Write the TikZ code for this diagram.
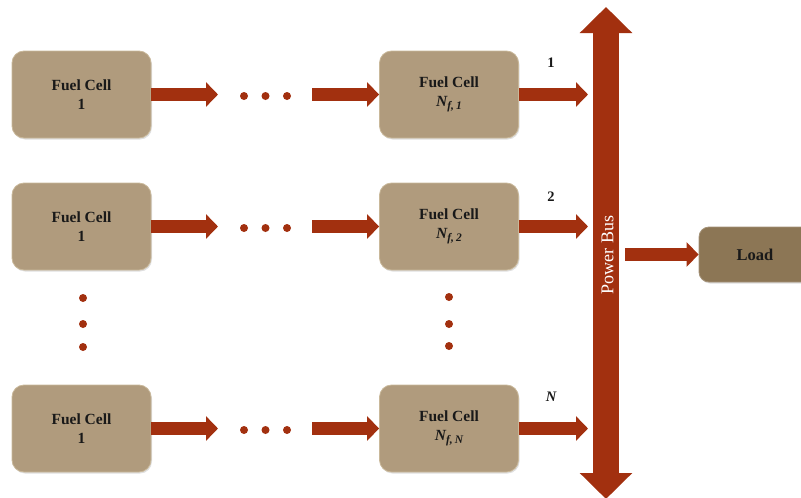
\documentclass[tikz,border=0pt]{standalone}
\usepackage{fontspec}
\setmainfont{Liberation Serif}
\usetikzlibrary{arrows.meta,shadows}
\definecolor{fcfill}{HTML}{B09B7D}
\definecolor{fcedge}{HTML}{C9B89A}
\definecolor{loadfill}{HTML}{8C7655}
\definecolor{arrred}{HTML}{A2300F}
\newcommand{\nfsub}[1]{{\bfseries\itshape N}\raisebox{-0.35ex}{\fontsize{11.5}{12}\selectfont\bfseries\itshape f,\,#1}}
\tikzset{
  fcbox/.style={rectangle, rounded corners=12pt, fill=fcfill, draw=fcedge, line width=0.8pt,
    minimum width=139pt, minimum height=87pt, align=center, inner sep=0pt,
    font=\fontsize{15.5}{19}\selectfont\bfseries, text=black!90,
    drop shadow={opacity=0.25, shadow xshift=1pt, shadow yshift=-1.5pt}},
  loadbox/.style={rectangle, rounded corners=10pt, fill=loadfill, draw=loadfill!80!white, line width=0.8pt,
    minimum width=112pt, minimum height=55pt, align=center, inner sep=0pt,
    font=\fontsize{16.5}{19}\selectfont\bfseries, text=black!90,
    drop shadow={opacity=0.25, shadow xshift=1pt, shadow yshift=-1.5pt}},
  blockarr/.style={draw=arrred, line width=13pt, -{Triangle[length=12pt,width=24pt]}},
  busarr/.style={draw=arrred, line width=26pt, {Triangle[length=26pt,width=51pt]}-{Triangle[length=26pt,width=51pt]}},
  dotmark/.style={circle, fill=arrred, minimum size=8pt, inner sep=0pt},
  lbl/.style={font=\fontsize{14.5}{16}\selectfont\bfseries, text=black!90},
}
\begin{document}
\begin{tikzpicture}[x=1pt,y=-1pt]
\useasboundingbox (0,0) rectangle (801,498);
% power bus
\coordinate (bustop) at (606,7);
\coordinate (busbot) at (606,499);
\draw[busarr] (bustop) -- (busbot);
\node[rotate=90, text=white, font=\fontsize{18}{20}\selectfont] (bus) at (607.5,255) {Power Bus};
% rows
\foreach \r/\y/\s in {1/94.5/1, 2/226.5/2, 3/428.5/N} {
  \node[fcbox] (a\r) at (81.5,\y) {Fuel Cell\\1};
  \node[fcbox] (b\r) at (449,\y) {Fuel Cell\\\nfsub{\s}};
  \coordinate (p\r) at (218,\y);
  \coordinate (q\r) at (312,\y);
  \coordinate (e\r) at (588,\y);
  \draw[blockarr] (a\r.east) -- (p\r);
  \draw[blockarr] (q\r) -- (b\r.west);
  \draw[blockarr] (b\r.east) -- (e\r);
  \node[dotmark] (dA\r) at (244,\y+1.5) {};
  \node[dotmark] (dB\r) at (265.5,\y+1.5) {};
  \node[dotmark] (dC\r) at (287,\y+1.5) {};
}
\node[lbl] (l1) at (551,63) {1};
\node[lbl] (l2) at (551,197) {2};
\node[lbl] (l3) at (551,397) {\itshape N};
% vertical dots
\node[dotmark] (va1) at (83,298) {};
\node[dotmark] (va2) at (83,324) {};
\node[dotmark] (va3) at (83,347) {};
\node[dotmark] (vb1) at (449,297) {};
\node[dotmark] (vb2) at (449,324) {};
\node[dotmark] (vb3) at (449,346) {};
% load
\node[loadbox] (load) at (755,254.5) {Load};
\coordinate (ls) at (625,254.5);
\draw[blockarr] (ls) -- (load.west);
\end{tikzpicture}
\end{document}
